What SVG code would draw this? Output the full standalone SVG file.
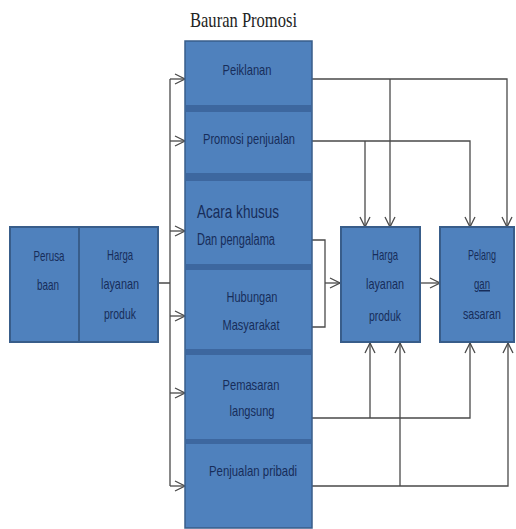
<svg xmlns="http://www.w3.org/2000/svg" width="516" height="529" viewBox="0 0 516 529">
<defs>
<style>
.box{fill:#4f81bd;stroke:#385d8a;stroke-width:2}
.band{fill:#3d679f}
.t{font-family:"Liberation Sans",Arial,sans-serif;font-size:15px;fill:#172d5a;text-anchor:middle}
.tl{font-family:"Liberation Sans",Arial,sans-serif;fill:#172d5a}
.title{font-family:"Liberation Serif","Times New Roman",serif;font-size:21px;fill:#222}
.c{fill:none;stroke:#4a4a4a;stroke-width:1.3}
.a{fill:none;stroke:#4a4a4a;stroke-width:1.3;marker-end:url(#arr)}
</style>
<marker id="arr" viewBox="0 0 12 12" refX="11" refY="6" markerWidth="12" markerHeight="12" markerUnits="userSpaceOnUse" orient="auto">
<path d="M1,1 L11,6 L1,11" fill="none" stroke="#4a4a4a" stroke-width="1.3"/>
</marker>
</defs>
<rect width="516" height="529" fill="#ffffff"/>

<text class="title" x="190" y="27" textLength="107" lengthAdjust="spacingAndGlyphs">Bauran Promosi</text>

<g id="connectors">
<path class="c" d="M158,283 H170 M170,79 V486"/>
<path class="a" d="M170,79 H185"/>
<path class="a" d="M170,141 H185"/>
<path class="a" d="M170,231 H185"/>
<path class="a" d="M170,316 H185"/>
<path class="a" d="M170,393 H185"/>
<path class="a" d="M170,486 H185"/>
<path class="a" d="M312,79 H507 V227"/>
<path class="a" d="M390,79 V227"/>
<path class="a" d="M312,141 H470 V227"/>
<path class="a" d="M365,141 V227"/>
<path class="c" d="M312,240 H325 V327 H312"/>
<path class="a" d="M325,283 H340"/>
<path class="a" d="M421,283 H440"/>
<path class="a" d="M312,418 H470 V343"/>
<path class="a" d="M370,418 V343"/>
<path class="a" d="M312,486 H508 V343"/>
<path class="a" d="M400,486 V343"/>
</g>

<g id="perusahaan">
<rect class="box" x="10" y="227" width="148" height="115"/>
<line x1="79" y1="227" x2="79" y2="342" stroke="#385d8a" stroke-width="2"/>
<text class="t" x="49" y="261" textLength="31" lengthAdjust="spacingAndGlyphs">Perusa</text>
<text class="t" x="48" y="290" textLength="22" lengthAdjust="spacingAndGlyphs">baan</text>
<text class="t" x="120" y="260" textLength="26" lengthAdjust="spacingAndGlyphs">Harga</text>
<text class="t" x="120" y="289" textLength="38" lengthAdjust="spacingAndGlyphs">layanan</text>
<text class="t" x="120" y="319" textLength="32" lengthAdjust="spacingAndGlyphs">produk</text>
</g>

<g id="bauran-promosi">
<rect x="185" y="41" width="127" height="487" fill="#4f81bd" stroke="#385d8a" stroke-width="1.5"/>
<rect class="band" x="186" y="105" width="125" height="7"/>
<rect class="band" x="186" y="173" width="125" height="8"/>
<rect class="band" x="186" y="264" width="125" height="6"/>
<rect class="band" x="186" y="349" width="125" height="6"/>
<rect class="band" x="186" y="439" width="125" height="5"/>
</g>

<g id="peiklanan">
<text class="t" x="247" y="75" textLength="49" lengthAdjust="spacingAndGlyphs">Peiklanan</text>
</g>
<g id="promosi-penjualan">
<text class="t" x="249" y="144" textLength="92" lengthAdjust="spacingAndGlyphs">Promosi penjualan</text>
</g>
<g id="acara-khusus">
<text class="tl" x="197" y="218" font-size="19" textLength="82" lengthAdjust="spacingAndGlyphs">Acara khusus</text>
<text class="tl" x="197" y="245" font-size="16" textLength="78" lengthAdjust="spacingAndGlyphs">Dan pengalama</text>
</g>
<g id="hubungan-masyarakat">
<text class="t" x="252" y="302" textLength="51" lengthAdjust="spacingAndGlyphs">Hubungan</text>
<text class="t" x="251" y="330" textLength="57" lengthAdjust="spacingAndGlyphs">Masyarakat</text>
</g>
<g id="pemasaran-langsung">
<text class="t" x="251" y="390" textLength="57" lengthAdjust="spacingAndGlyphs">Pemasaran</text>
<text class="t" x="252" y="416" textLength="45" lengthAdjust="spacingAndGlyphs">langsung</text>
</g>
<g id="penjualan-pribadi">
<text class="t" x="253" y="476" textLength="88" lengthAdjust="spacingAndGlyphs">Penjualan pribadi</text>
</g>

<g id="harga-layanan-produk">
<rect class="box" x="341" y="227" width="79" height="115"/>
<text class="t" x="385" y="260" textLength="26" lengthAdjust="spacingAndGlyphs">Harga</text>
<text class="t" x="385" y="289" textLength="38" lengthAdjust="spacingAndGlyphs">layanan</text>
<text class="t" x="385" y="321" textLength="32" lengthAdjust="spacingAndGlyphs">produk</text>
</g>

<g id="pelanggan-sasaran">
<rect class="box" x="440" y="227" width="74" height="115"/>
<text class="t" x="482" y="260" font-size="13" textLength="28" lengthAdjust="spacingAndGlyphs">Pelang</text>
<text class="t" x="482" y="289" font-size="13" textLength="16" lengthAdjust="spacingAndGlyphs" text-decoration="underline">gan</text>
<text class="t" x="482" y="319" font-size="13" textLength="38" lengthAdjust="spacingAndGlyphs">sasaran</text>
</g>
</svg>
